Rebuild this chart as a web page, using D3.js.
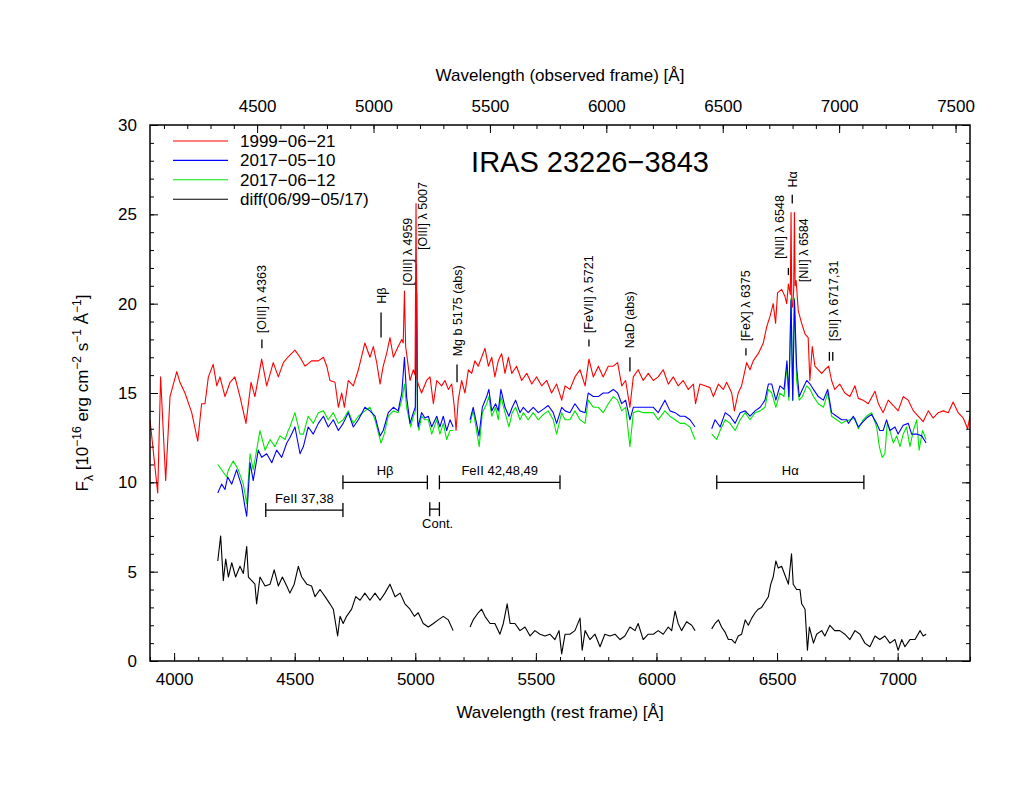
<!DOCTYPE html>
<html><head><meta charset="utf-8">
<script src="https://cdn.jsdelivr.net/npm/d3@7"></script>
<style>body{margin:0;background:#fff} text{font-family:"Liberation Sans",Arial,Helvetica,sans-serif}</style>
</head><body><svg id="c" width="1035" height="800"></svg>
<script>
// ---------------- DATA ----------------
const spec1999 = [[3900,13.5],[3932,9.4],[3944,15.9],[3965,10.1],[3983,14.8],[4011,16.2],[4024,15.6],[4045,15.0],[4073,13.9],[4098,12.3],[4114,14.4],[4128,14.4],[4142,15.9],[4162,16.6],[4177,15.4],[4190,15.9],[4211,14.8],[4232,15.6],[4252,15.9],[4273,14.8],[4298,13.3],[4319,15.6],[4335,14.8],[4363,16.9],[4384,15.4],[4411,16.7],[4432,15.9],[4453,16.7],[4471,17.0],[4501,17.4],[4522,17.0],[4543,16.5],[4570,16.8],[4598,16.8],[4619,17.0],[4633,16.5],[4646,15.7],[4667,15.6],[4681,14.2],[4695,15.0],[4706,14.2],[4722,15.7],[4743,15.4],[4764,16.3],[4791,17.8],[4812,17.0],[4826,17.6],[4840,16.7],[4854,15.5],[4867,16.5],[4881,17.2],[4895,18.1],[4909,17.0],[4929,17.6],[4944,18.0],[4950,17.8],[4955,20.7],[4960,17.6],[4964,17.2],[4978,15.7],[4992,16.3],[4999,16.0],[5003,25.6],[5007,15.8],[5012,15.5],[5026,15.0],[5047,15.7],[5061,15.9],[5075,14.4],[5089,15.7],[5109,15.4],[5123,15.7],[5137,15.2],[5151,15.5],[5162,14.2],[5169,12.9],[5178,14.6],[5192,15.7],[5206,15.0],[5220,16.3],[5234,16.1],[5247,16.8],[5261,16.5],[5275,17.0],[5289,17.5],[5303,16.5],[5317,17.0],[5330,15.9],[5344,16.8],[5358,17.2],[5372,16.1],[5386,17.0],[5400,16.1],[5420,16.5],[5441,15.7],[5462,16.1],[5483,15.5],[5503,15.9],[5524,15.4],[5545,15.7],[5565,15.0],[5586,15.5],[5607,14.6],[5621,15.4],[5641,15.2],[5662,15.9],[5683,16.3],[5704,15.4],[5720,16.9],[5738,15.9],[5759,16.5],[5779,15.9],[5800,16.5],[5821,16.5],[5839,16.7],[5856,15.4],[5872,15.7],[5890,14.2],[5904,15.9],[5924,16.3],[5945,15.7],[5966,16.1],[5987,15.7],[6007,15.9],[6028,16.3],[6049,15.5],[6070,15.9],[6090,15.4],[6111,15.7],[6132,15.2],[6153,15.5],[6162,14.4],[6180,15.5],[6201,15.4],[6222,15.3],[6236,14.8],[6257,15.5],[6277,15.2],[6291,15.6],[6312,15.0],[6323,14.0],[6339,15.0],[6353,15.4],[6374,16.7],[6388,16.3],[6401,16.8],[6422,17.2],[6443,17.8],[6457,18.7],[6471,19.3],[6484,20.0],[6494,18.9],[6502,20.6],[6519,20.8],[6533,20.4],[6540,20.0],[6547,21.1],[6555,20.5],[6558,25.1],[6561,20.0],[6565,19.8],[6569,20.8],[6572,25.1],[6575,21.0],[6579,21.3],[6588,19.6],[6602,18.9],[6616,18.3],[6629,18.1],[6636,15.7],[6646,17.6],[6657,16.5],[6671,16.3],[6685,16.1],[6698,16.3],[6714,16.5],[6726,15.7],[6739,15.2],[6760,15.5],[6781,15.0],[6802,14.8],[6823,15.4],[6837,14.7],[6857,14.6],[6878,14.4],[6906,15.1],[6920,14.4],[6940,13.9],[6961,14.6],[6982,14.3],[7002,14.0],[7023,14.8],[7044,14.6],[7065,14.0],[7085,13.7],[7106,13.4],[7127,14.0],[7147,13.6],[7168,13.9],[7189,14.0],[7210,13.9],[7230,14.5],[7251,13.9],[7272,13.6],[7290,13.0],[7300,13.7]];

const spec2017May = [[4181,9.4],[4197,9.9],[4211,9.6],[4222,10.3],[4239,9.9],[4259,10.7],[4280,9.8],[4294,8.6],[4301,8.1],[4315,11.1],[4328,10.1],[4349,11.8],[4363,11.4],[4384,11.6],[4405,11.1],[4425,11.8],[4446,11.4],[4467,12.2],[4480,12.5],[4501,13.1],[4522,11.6],[4536,12.0],[4556,13.1],[4577,12.7],[4598,13.3],[4619,13.7],[4639,13.1],[4660,13.5],[4681,12.9],[4701,13.3],[4722,13.9],[4743,13.1],[4764,13.5],[4791,14.2],[4812,14.0],[4833,13.7],[4854,12.6],[4867,12.9],[4888,13.9],[4909,14.2],[4929,14.0],[4944,15.0],[4955,17.0],[4964,14.8],[4978,13.3],[4992,13.9],[5000,14.2],[5005,22.2],[5009,13.6],[5012,13.1],[5026,13.9],[5040,13.6],[5054,13.7],[5068,13.1],[5089,13.7],[5102,13.1],[5116,13.7],[5130,12.9],[5144,13.5],[5157,13.1],[5190,null],[5227,13.5],[5240,14.2],[5254,13.3],[5264,12.6],[5278,14.2],[5296,14.8],[5305,15.2],[5317,14.0],[5333,14.4],[5344,14.0],[5355,15.2],[5372,14.2],[5388,13.7],[5402,14.2],[5416,14.6],[5434,13.9],[5448,14.2],[5468,13.9],[5489,14.2],[5510,13.9],[5531,14.1],[5551,14.3],[5572,13.9],[5586,13.3],[5607,14.2],[5621,14.0],[5641,13.9],[5662,14.4],[5683,14.0],[5704,13.9],[5717,15.0],[5738,14.8],[5759,14.8],[5779,15.0],[5800,15.0],[5821,15.2],[5839,15.0],[5856,14.4],[5872,14.6],[5890,13.5],[5904,14.2],[5924,14.2],[5945,14.2],[5966,14.2],[5987,14.2],[6007,13.9],[6035,14.6],[6056,14.0],[6077,13.9],[6098,13.7],[6118,13.7],[6139,13.5],[6160,13.1],[6195,null],[6229,13.0],[6243,13.5],[6264,13.1],[6285,13.9],[6305,13.7],[6326,13.3],[6347,13.9],[6368,14.0],[6388,13.7],[6409,14.0],[6430,14.2],[6450,14.6],[6464,15.5],[6478,15.5],[6495,14.6],[6512,15.4],[6529,15.2],[6541,16.8],[6549,14.8],[6558,20.2],[6565,14.6],[6572,20.2],[6581,16.5],[6592,14.8],[6605,15.2],[6623,15.7],[6637,15.5],[6651,15.2],[6671,14.8],[6692,14.6],[6710,15.2],[6726,13.9],[6747,13.7],[6768,13.5],[6789,13.5],[6796,13.3],[6816,13.7],[6837,13.1],[6857,13.4],[6871,13.6],[6892,13.8],[6913,13.3],[6926,12.9],[6940,12.9],[6954,13.5],[6968,12.9],[6989,13.1],[7002,12.7],[7023,13.2],[7044,13.3],[7058,12.7],[7079,12.7],[7100,12.6],[7118,12.2]];

const spec2017Jun = [[4181,11.0],[4218,10.3],[4225,10.7],[4245,11.2],[4266,10.7],[4287,9.9],[4301,8.8],[4315,11.6],[4328,10.7],[4356,12.9],[4377,11.8],[4398,12.4],[4418,12.0],[4439,12.6],[4460,12.4],[4473,12.9],[4480,13.1],[4501,13.9],[4522,12.7],[4536,12.7],[4556,13.7],[4577,13.3],[4598,13.9],[4619,14.0],[4639,13.5],[4660,13.9],[4681,13.3],[4701,13.5],[4722,14.0],[4743,13.3],[4764,13.7],[4791,14.0],[4812,14.2],[4833,13.5],[4858,12.2],[4871,12.7],[4888,13.7],[4909,14.0],[4929,13.9],[4944,14.6],[4955,15.5],[4964,14.2],[4981,13.1],[4992,13.7],[5001,14.0],[5006,20.6],[5010,13.4],[5015,12.9],[5026,13.7],[5040,13.5],[5054,13.5],[5068,12.7],[5089,13.5],[5102,12.7],[5116,13.3],[5130,12.4],[5144,12.9],[5157,12.9],[5190,null],[5227,13.3],[5240,14.0],[5254,12.9],[5265,12.0],[5278,13.9],[5296,14.4],[5305,14.8],[5317,13.7],[5333,14.2],[5344,13.5],[5355,14.8],[5372,13.9],[5388,13.1],[5402,13.9],[5416,14.2],[5434,13.5],[5448,13.9],[5468,13.5],[5489,13.9],[5510,13.5],[5531,13.8],[5551,14.0],[5572,13.5],[5586,12.7],[5607,13.9],[5621,13.5],[5641,13.5],[5662,14.0],[5683,13.5],[5704,13.3],[5717,14.6],[5738,14.2],[5759,14.2],[5779,13.9],[5800,14.4],[5821,14.8],[5839,14.6],[5856,14.0],[5872,14.2],[5890,12.0],[5904,13.9],[5924,14.0],[5945,13.9],[5966,13.9],[5987,13.9],[6007,13.5],[6035,14.0],[6056,13.7],[6077,13.5],[6098,13.3],[6118,13.3],[6139,13.1],[6160,12.4],[6195,null],[6229,12.7],[6250,12.4],[6264,12.9],[6285,13.5],[6305,13.3],[6326,12.9],[6347,13.5],[6368,13.9],[6388,13.5],[6409,13.9],[6430,14.0],[6450,14.2],[6464,15.2],[6478,15.0],[6495,14.2],[6512,15.0],[6529,14.8],[6541,16.5],[6549,14.6],[6558,20.3],[6565,14.6],[6572,20.3],[6581,15.7],[6592,14.6],[6605,14.8],[6623,15.4],[6637,15.2],[6651,14.8],[6671,14.4],[6692,14.2],[6710,15.0],[6726,13.7],[6747,13.5],[6768,13.3],[6781,13.4],[6802,13.5],[6823,13.6],[6837,13.0],[6857,13.5],[6871,13.7],[6892,13.9],[6913,13.1],[6924,12.0],[6936,11.4],[6947,11.6],[6957,13.3],[6968,12.9],[6982,12.2],[6996,12.6],[7010,12.0],[7023,12.7],[7037,13.1],[7051,12.0],[7065,12.9],[7079,13.5],[7089,11.8],[7103,12.9],[7118,12.4]];

const specDiff = [[4181,5.6],[4193,7.0],[4204,4.5],[4214,5.7],[4225,4.7],[4239,5.5],[4255,4.7],[4273,5.3],[4287,4.9],[4301,6.4],[4308,4.7],[4322,4.5],[4335,4.3],[4342,3.2],[4356,4.7],[4377,4.2],[4398,4.3],[4415,5.1],[4432,4.2],[4449,4.7],[4467,4.2],[4480,3.8],[4498,4.3],[4515,5.3],[4529,4.7],[4550,4.3],[4570,4.2],[4584,3.6],[4605,4.0],[4626,3.6],[4646,3.2],[4660,2.9],[4678,1.4],[4688,2.5],[4701,2.1],[4715,2.5],[4736,2.9],[4753,3.6],[4771,3.4],[4791,3.8],[4812,3.4],[4833,3.8],[4854,3.4],[4874,3.8],[4895,4.3],[4916,3.6],[4937,3.8],[4957,3.2],[4978,2.9],[4996,2.5],[5012,2.7],[5033,2.1],[5054,1.9],[5075,2.1],[5095,2.3],[5116,2.5],[5137,2.3],[5157,1.7],[5190,null],[5227,1.9],[5240,2.3],[5261,2.7],[5275,2.9],[5289,2.5],[5310,2.1],[5330,2.1],[5351,1.5],[5365,2.1],[5381,3.2],[5393,2.1],[5413,2.1],[5434,1.7],[5455,1.9],[5476,1.4],[5496,1.7],[5517,1.5],[5538,1.4],[5558,1.5],[5579,1.2],[5596,1.7],[5607,0.4],[5621,1.5],[5641,1.5],[5662,1.7],[5683,2.4],[5692,0.6],[5704,1.7],[5724,1.2],[5745,1.5],[5766,0.8],[5786,1.5],[5807,1.4],[5828,1.5],[5849,1.2],[5869,1.4],[5890,1.9],[5911,1.7],[5924,2.1],[5945,1.2],[5966,1.5],[5987,1.5],[6007,1.7],[6028,1.5],[6049,1.9],[6063,1.7],[6077,2.8],[6090,2.1],[6104,1.7],[6125,2.2],[6146,2.0],[6160,1.7],[6195,null],[6229,1.8],[6243,2.1],[6257,2.3],[6270,1.9],[6285,1.6],[6298,1.2],[6312,1.2],[6326,1.0],[6339,1.4],[6353,1.5],[6368,2.3],[6381,2.0],[6395,2.4],[6409,2.7],[6422,2.9],[6436,3.0],[6450,3.3],[6464,3.6],[6474,4.3],[6484,4.7],[6495,5.6],[6505,5.2],[6519,5.3],[6533,4.8],[6547,4.3],[6560,6.0],[6567,4.3],[6581,4.0],[6595,4.0],[6602,3.2],[6616,2.9],[6626,0.6],[6634,1.9],[6651,1.0],[6664,1.5],[6685,1.7],[6698,1.4],[6719,2.0],[6739,1.7],[6760,1.7],[6781,1.5],[6802,1.2],[6823,1.7],[6844,1.5],[6864,1.0],[6885,0.8],[6906,1.4],[6926,1.2],[6947,1.4],[6968,1.0],[6989,1.2],[7002,0.6],[7017,1.2],[7030,0.8],[7051,1.2],[7072,1.2],[7093,1.7],[7106,1.4],[7118,1.5]];

const seriesNames = ["1999\u221206\u221221","2017\u221205\u221210","2017\u221206\u221212","diff(06/99\u221205/17)"];
const seriesColors = ["#ff0000","#0000ff","#00e600","#000000"];

const restTicks = [4000,4500,5000,5500,6000,6500,7000];
const obsTicks = [4500,5000,5500,6000,6500,7000,7500];
const fluxTicks = [0,5,10,15,20,25,30];
const redshift = 0.0359;

// line identifications: text, tick wavelength, text wavelength, tick start/end flux, text start flux
const lineLabels = [
  {t:"[OIII] \u03bb 4363", w:4364, wt:4364, f0:17.5, f1:18.0, ft:18.35},
  {t:"H\u03b2", w:4858, wt:4858, f0:18.1, f1:19.5, ft:20.0},
  {t:"[OIII] \u03bb 4959", w:null, wt:4966, f0:null, f1:null, ft:21.0},
  {t:"[OIII] \u03bb 5007", w:null, wt:5029, f0:null, f1:null, ft:23.0},
  {t:"Mg b 5175 (abs)", w:5173, wt:5173, f0:15.6, f1:16.6, ft:17.05},
  {t:"[FeVII] \u03bb 5721", w:5720, wt:5720, f0:17.6, f1:18.0, ft:18.35},
  {t:"NaD (abs)", w:5890, wt:5890, f0:16.2, f1:17.0, ft:17.5},
  {t:"[FeX] \u03bb 6375", w:6371, wt:6371, f0:17.1, f1:17.5, ft:17.9},
  {t:"[NII] \u03bb 6548", w:6547, wt:6510, f0:21.6, f1:22.0, ft:22.5},
  {t:"H\u03b1", w:6563, wt:6563, f0:25.6, f1:26.1, ft:26.5},
  {t:"[NII] \u03bb 6584", w:null, wt:6610, f0:null, f1:null, ft:21.2},
  {t:"[SII] \u03bb 6717,31", w:null, wt:6734, f0:null, f1:null, ft:17.9}
];
const sIIticks = [6717,6731];
const sIIrange = [16.8,17.3];

// continuum / Fe II windows
const windowNames = ["FeII 37,38","H\u03b2","FeII 42,48,49","Cont.","H\u03b1"];
const windowStart = [4380,4700,5100,5060,6250];
const windowEnd   = [4700,5050,5600,5100,6860];
const windowLevel = [8.45,10.0,10.0,8.5,10.0];

// ---------------- CHART ----------------
const svg = d3.select("#c");
const L=150,R=970,T=125,B=661;
const x = d3.scaleLinear().domain([3900,7300]).range([L,R]);
const xObs = d3.scaleLinear().domain([3900*(1+redshift),7300*(1+redshift)]).range([L,R]);
const y = d3.scaleLinear().domain([0,30]).range([B,T]);

svg.append("defs").append("clipPath").attr("id","clip")
  .append("rect").attr("x",L).attr("y",T).attr("width",R-L).attr("height",B-T);

const line = d3.line().defined(d=>d[1]!==null).x(d=>x(d[0])).y(d=>y(d[1]));
const series = [spec1999, spec2017May, spec2017Jun, specDiff];
const g = svg.append("g").attr("clip-path","url(#clip)");
[3,2,1,0].forEach(idx=>{
  g.append("path").datum(series[idx]).attr("d",line).attr("fill","none")
   .attr("stroke",seriesColors[idx]).attr("stroke-width",1.1).attr("stroke-linejoin","round");
});

// axes
function styleAxis(sel){
  sel.select(".domain").remove();
  sel.selectAll("line").attr("stroke","#000").attr("stroke-width",1);
  sel.selectAll("text").attr("font-size","17px").attr("fill","#000")
     .attr("font-family",'"Liberation Sans",Arial,sans-serif');
}
const minorRest = d3.range(3900,7301,100);
const minorObs = d3.range(4100,7601,100);
const minorFlux = d3.range(0,31,1);
svg.append("g").attr("transform",`translate(0,${B})`)
  .call(d3.axisBottom(x).tickValues(minorRest).tickSize(-4).tickFormat("")).call(styleAxis);
svg.append("g").attr("transform",`translate(0,${B})`)
  .call(d3.axisBottom(x).tickValues(restTicks).tickSize(-8).tickPadding(12).tickFormat(d3.format("d"))).call(styleAxis);
svg.append("g").attr("transform",`translate(0,${T})`)
  .call(d3.axisTop(xObs).tickValues(minorObs.filter(v=>xObs(v)>=L&&xObs(v)<=R)).tickSize(-4).tickFormat("")).call(styleAxis);
svg.append("g").attr("transform",`translate(0,${T})`)
  .call(d3.axisTop(xObs).tickValues(obsTicks).tickSize(-8).tickPadding(13).tickFormat(d3.format("d"))).call(styleAxis);
svg.append("g").attr("transform",`translate(${L},0)`)
  .call(d3.axisLeft(y).tickValues(minorFlux).tickSize(-4).tickFormat("")).call(styleAxis);
svg.append("g").attr("transform",`translate(${L},0)`)
  .call(d3.axisLeft(y).tickValues(fluxTicks).tickSize(-8).tickPadding(13).tickFormat(d3.format("d"))).call(styleAxis);
svg.append("g").attr("transform",`translate(${R},0)`)
  .call(d3.axisRight(y).tickValues(minorFlux).tickSize(-4).tickFormat("")).call(styleAxis);
svg.append("g").attr("transform",`translate(${R},0)`)
  .call(d3.axisRight(y).tickValues(fluxTicks).tickSize(-8).tickFormat("")).call(styleAxis);

svg.append("rect").attr("x",L).attr("y",T).attr("width",R-L).attr("height",B-T)
  .attr("fill","none").attr("stroke","#000").attr("stroke-width",1.5);

// axis titles
svg.append("text").attr("x",(L+R)/2).attr("y",718).attr("text-anchor","middle")
  .attr("font-size","17px").text("Wavelength (rest frame) [\u00c5]");
svg.append("text").attr("x",(L+R)/2).attr("y",81).attr("text-anchor","middle")
  .attr("font-size","17px").text("Wavelength (observed frame) [\u00c5]");
const yl = svg.append("text").attr("transform",`translate(88,${(T+B)/2}) rotate(-90)`)
  .attr("text-anchor","middle").attr("font-size","17px");
yl.append("tspan").text("F");
yl.append("tspan").attr("dy",5).attr("font-size","12px").text("\u03bb");
yl.append("tspan").attr("dy",-5).text(" [10");
yl.append("tspan").attr("dy",-7).attr("font-size","12px").text("\u221216");
yl.append("tspan").attr("dy",7).text(" erg cm");
yl.append("tspan").attr("dy",-7).attr("font-size","12px").text("\u22122");
yl.append("tspan").attr("dy",7).text(" s");
yl.append("tspan").attr("dy",-7).attr("font-size","12px").text("\u22121");
yl.append("tspan").attr("dy",7).text(" \u00c5");
yl.append("tspan").attr("dy",-7).attr("font-size","12px").text("\u22121");
yl.append("tspan").attr("dy",7).text("]");

// title
svg.append("text").attr("x",590).attr("y",172).attr("text-anchor","middle")
  .attr("font-size","29px").text("IRAS 23226\u22123843");

// legend
const lg = svg.append("g");
seriesNames.forEach((n,i)=>{
  const yy = 141 + i*19.4;
  lg.append("line").attr("x1",173).attr("x2",228).attr("y1",yy).attr("y2",yy)
    .attr("stroke",seriesColors[i]).attr("stroke-width",1.1);
  lg.append("text").attr("x",240).attr("y",yy+6).attr("font-size","17px").text(n);
});

// line identifications
const ann = svg.append("g");
lineLabels.forEach(d=>{
  if(d.w!==null){
    const xx = x(d.w);
    ann.append("line").attr("x1",xx).attr("x2",xx).attr("y1",y(d.f0)).attr("y2",y(d.f1))
      .attr("stroke","#000").attr("stroke-width",1.3);
  }
  ann.append("text").attr("transform",`translate(${x(d.wt)+4.5},${y(d.ft)}) rotate(-90)`)
    .attr("font-size","12.5px").text(d.t);
});
sIIticks.forEach(w=>{
  ann.append("line").attr("x1",x(w)).attr("x2",x(w)).attr("y1",y(sIIrange[0])).attr("y2",y(sIIrange[1]))
    .attr("stroke","#000").attr("stroke-width",1.3);
});

// windows
const wg = svg.append("g");
windowNames.forEach((n,i)=>{
  const x0=x(windowStart[i]), x1=x(windowEnd[i]), yy=y(windowLevel[i]);
  wg.append("line").attr("x1",x0).attr("x2",x1).attr("y1",yy).attr("y2",yy).attr("stroke","#000").attr("stroke-width",1.3);
  [x0,x1].forEach(xc=>wg.append("line").attr("x1",xc).attr("x2",xc).attr("y1",yy-7).attr("y2",yy+7).attr("stroke","#000").attr("stroke-width",1.3));
  const below = n==="Cont.";
  wg.append("text").attr("x",(x0+x1)/2 + (below?3:0)).attr("y", below? yy+19 : yy-7)
    .attr("text-anchor","middle").attr("font-size","13px").text(n);
});
</script></body></html>
